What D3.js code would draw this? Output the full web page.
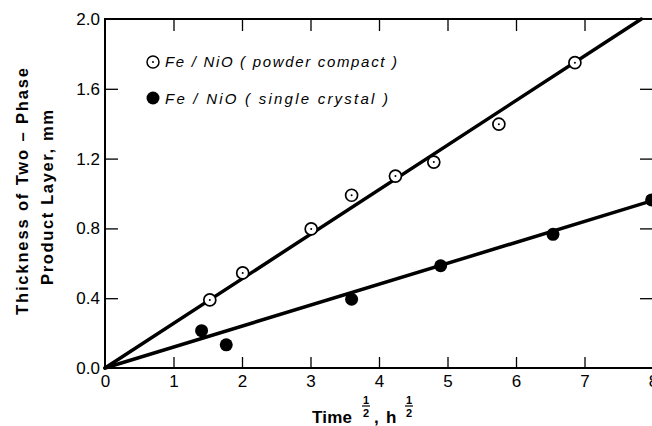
<!DOCTYPE html>
<html>
<head>
<meta charset="utf-8">
<script src="https://cdn.jsdelivr.net/npm/d3@7"></script>
<style>
  html, body { margin: 0; padding: 0; background: #fff; overflow: hidden; }
  svg { display: block; }
  text { font-family: "Liberation Sans", Arial, sans-serif; fill: #000; }
</style>
</head>
<body>
<svg id="chart" width="652" height="426"></svg>
<script>
// ---- data ----
const powderX = [1.53, 2.01, 3.01, 3.6, 4.24, 4.8, 5.75, 6.86];
const powderY = [0.39, 0.545, 0.797, 0.99, 1.10, 1.18, 1.397, 1.75];
const crystalX = [1.41, 1.77, 3.6, 4.9, 6.54, 7.98];
const crystalY = [0.214, 0.133, 0.394, 0.586, 0.766, 0.963];
const powderFitX = [0, 7.83];
const powderFitY = [0, 2.0];
const crystalFitX = [0, 8];
const crystalFitY = [0, 0.96];
const xTicks = [0, 1, 2, 3, 4, 5, 6, 7, 8];
const yTicks = [0.0, 0.4, 0.8, 1.2, 1.6, 2.0];
const legendLabels = ["Fe / NiO ( powder compact )", "Fe / NiO ( single  crystal )"];

// ---- layout ----
const svg = d3.select("#chart");
const L = 105, R = 653, T = 19, B = 368;
const x = d3.scaleLinear().domain([0, 8]).range([L, R]);
const y = d3.scaleLinear().domain([0, 2]).range([B, T]);

// frame
svg.append("rect").attr("x", L).attr("y", T).attr("width", R - L).attr("height", B - T)
  .attr("fill", "none").attr("stroke", "#000").attr("stroke-width", 2);

// bottom axis (ticks inward, labels)
const gB = svg.append("g").attr("transform", `translate(0,${B})`)
  .call(d3.axisBottom(x).tickValues(xTicks).tickSize(-11).tickPadding(7).tickFormat(d3.format("d")));
gB.select(".domain").remove();
gB.selectAll(".tick line").attr("stroke", "#000").attr("stroke-width", 1.3)
  .filter(d => d === 0 || d === 8).remove();
gB.selectAll("text").attr("font-size", 17).attr("font-family", "Liberation Sans, Arial, sans-serif").attr("fill", "#000");

// left axis
const gL = svg.append("g").attr("transform", `translate(${L},0)`)
  .call(d3.axisLeft(y).tickValues(yTicks).tickSize(-13).tickPadding(5).tickFormat(d3.format(".1f")));
gL.select(".domain").remove();
gL.selectAll(".tick line").attr("stroke", "#000").attr("stroke-width", 1.3)
  .filter(d => d === 0 || d === 2).remove();
gL.selectAll("text").attr("font-size", 17).attr("font-family", "Liberation Sans, Arial, sans-serif").attr("fill", "#000");

// top axis (ticks only)
const gT = svg.append("g").attr("transform", `translate(0,${T})`)
  .call(d3.axisTop(x).tickValues([1, 2, 3, 4, 5, 6, 7]).tickSize(-12).tickFormat(""));
gT.select(".domain").remove();
gT.selectAll(".tick line").attr("stroke", "#000").attr("stroke-width", 1.3);

// right axis (ticks only)
const gR = svg.append("g").attr("transform", `translate(${R},0)`)
  .call(d3.axisRight(y).tickValues([0.4, 0.8, 1.2, 1.6]).tickSize(-13).tickFormat(""));
gR.select(".domain").remove();
gR.selectAll(".tick line").attr("stroke", "#000").attr("stroke-width", 1.3);

// fit lines
const line = d3.line().x(d => x(d[0])).y(d => y(d[1]));
svg.append("path").datum(d3.zip(powderFitX, powderFitY)).attr("d", line)
  .attr("fill", "none").attr("stroke", "#000").attr("stroke-width", 3.5).attr("stroke-linecap", "round");
svg.append("path").datum(d3.zip(crystalFitX, crystalFitY)).attr("d", line)
  .attr("fill", "none").attr("stroke", "#000").attr("stroke-width", 3.5).attr("stroke-linecap", "round");

// points
const powder = d3.zip(powderX, powderY);
svg.append("g").selectAll("circle").data(powder).join("circle")
  .attr("cx", d => x(d[0])).attr("cy", d => y(d[1])).attr("r", 6)
  .attr("fill", "#fff").attr("stroke", "#000").attr("stroke-width", 1.7);
svg.append("g").selectAll("circle").data(powder).join("circle")
  .attr("cx", d => x(d[0])).attr("cy", d => y(d[1])).attr("r", 1).attr("fill", "#000");
const crystal = d3.zip(crystalX, crystalY);
svg.append("g").selectAll("circle").data(crystal).join("circle")
  .attr("cx", d => x(d[0])).attr("cy", d => y(d[1])).attr("r", 6.5).attr("fill", "#000");

// legend
svg.append("circle").attr("cx", 153).attr("cy", 62).attr("r", 6)
  .attr("fill", "#fff").attr("stroke", "#000").attr("stroke-width", 1.5);
svg.append("circle").attr("cx", 153).attr("cy", 62).attr("r", 1).attr("fill", "#000");
svg.append("circle").attr("cx", 153).attr("cy", 98).attr("r", 6.5).attr("fill", "#000");
svg.append("text").attr("x", 165).attr("y", 67).attr("font-size", 15).attr("font-style", "italic")
  .attr("textLength", 232).attr("lengthAdjust", "spacing").text(legendLabels[0]);
svg.append("text").attr("x", 165).attr("y", 103.5).attr("font-size", 15).attr("font-style", "italic")
  .attr("textLength", 223).attr("lengthAdjust", "spacing").text(legendLabels[1]);

// y axis title
svg.append("text").attr("transform", "translate(28,191.5) rotate(-90)").attr("text-anchor", "middle")
  .attr("font-size", 16.5).attr("font-weight", "bold")
  .attr("textLength", 247).attr("lengthAdjust", "spacing").text("Thickness of Two \u2013 Phase");
svg.append("text").attr("transform", "translate(52.5,197.5) rotate(-90)").attr("text-anchor", "middle")
  .attr("font-size", 16.5).attr("font-weight", "bold")
  .attr("textLength", 175).attr("lengthAdjust", "spacing").text("Product Layer, mm");

// x axis title: Time^(1/2), h^(1/2)
svg.append("text").attr("x", 312).attr("y", 423).attr("font-size", 17).attr("font-weight", "bold")
  .attr("textLength", 40).attr("lengthAdjust", "spacing").text("Time");
svg.append("text").attr("x", 374).attr("y", 423).attr("font-size", 17).attr("font-weight", "bold").text(",");
svg.append("text").attr("x", 386).attr("y", 423).attr("font-size", 17).attr("font-weight", "bold").text("h");
[366, 409].forEach(cx => {
  svg.append("text").attr("x", cx).attr("y", 403.5).attr("text-anchor", "middle")
    .attr("font-size", 11).attr("font-weight", "bold").text("1");
  svg.append("line").attr("x1", cx - 4).attr("x2", cx + 4).attr("y1", 406).attr("y2", 406)
    .attr("stroke", "#000").attr("stroke-width", 1.2);
  svg.append("text").attr("x", cx).attr("y", 416.5).attr("text-anchor", "middle")
    .attr("font-size", 11).attr("font-weight", "bold").text("2");
});
</script>
</body>
</html>
